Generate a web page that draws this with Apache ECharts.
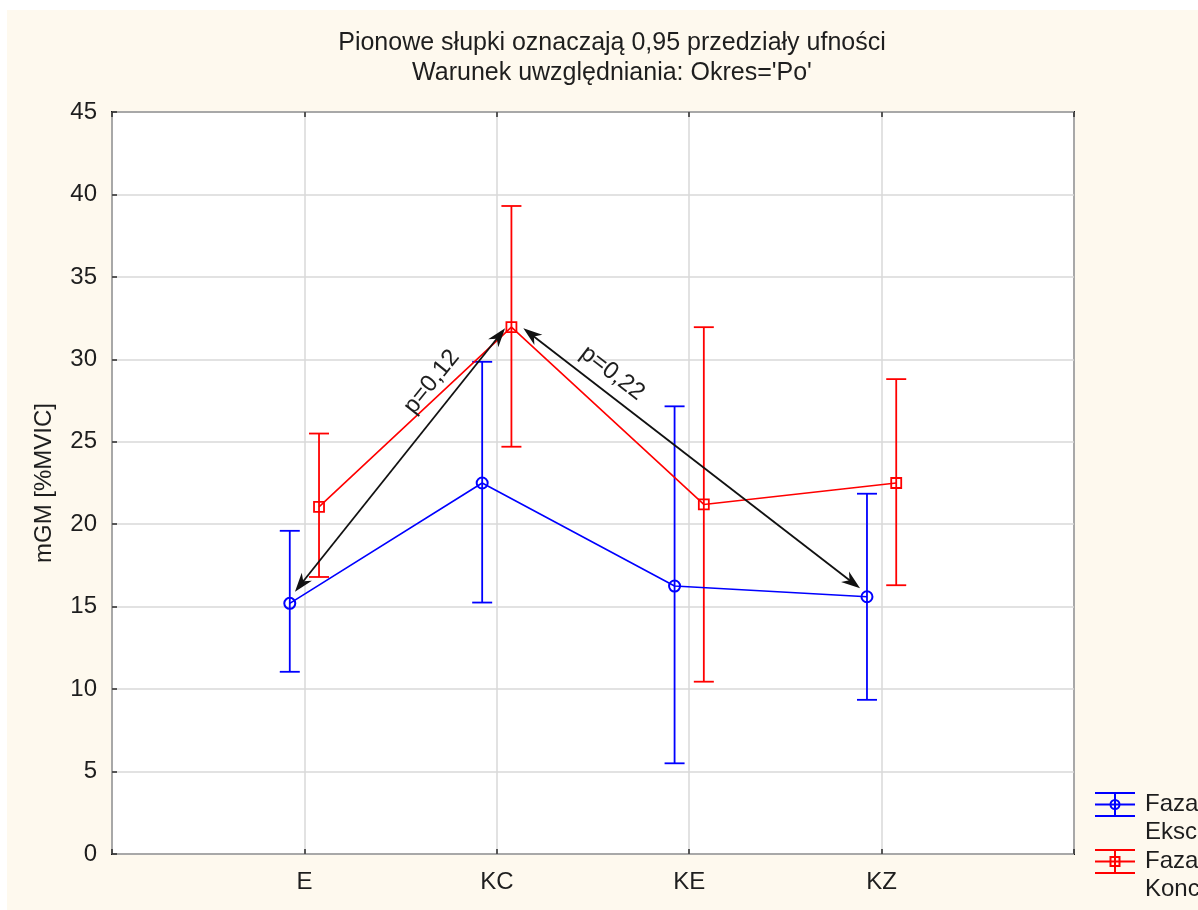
<!DOCTYPE html>
<html><head><meta charset="utf-8">
<script src="https://cdn.jsdelivr.net/npm/echarts@6/dist/echarts.min.js"></script>
<style>html,body{margin:0;padding:0;background:#fff}#c{width:1198px;height:910px}</style>
</head><body><div id="c"></div>
<script>
// ---- data ----
const categories = ['E', 'KC', 'KE', 'KZ'];
const yTicks = [0, 5, 10, 15, 20, 25, 30, 35, 40, 45];
const ekscMean = [15.2, 22.5, 16.25, 15.6];
const ekscLow  = [11.05, 15.25, 5.5, 9.35];
const ekscHigh = [19.6, 29.85, 27.15, 21.85];
const koncMean = [21.05, 31.95, 21.2, 22.5];
const koncLow  = [16.8, 24.7, 10.45, 16.3];
const koncHigh = [25.5, 39.3, 31.95, 28.8];
const seriesNames = [['Faza', 'Ekscentryczna'], ['Faza', 'Koncentryczna']];
const titleLines = ["Pionowe słupki oznaczają 0,95 przedziały ufności", "Warunek uwzględniania: Okres='Po'"];
const yAxisName = 'mGM [%MVIC]';
// annotation arrows (data coordinates: category position, value)
const arrowFrom = [[0.951, 15.91], [2.138, 31.88]];
const arrowTo   = [[2.043, 31.88], [3.888, 16.11]];
const arrowLabels = ['p=0,12', 'p=0,22'];

// ---- layout/style ----
const OFF = 0.076;
const BLUE = '#0000ff', RED = '#ff0000';
const FONT = '"Liberation Sans", Arial, sans-serif';
const TXT = '#1e1e1e';
const FS = 24;
const labelPlace = [{t: 0.74, d: 24}, {t: 0.23, d: 19}];

const chart = echarts.init(document.getElementById('c'), null, {renderer: 'canvas'});

function pts(mean, off) { return mean.map((v, i) => [i + 1 + off, v]); }
function bars(low, high, off) { return low.map((v, i) => [i + 1 + off, v, high[i]]); }

function errRender(color) {
  return function (params, api) {
    const x = api.value(0);
    const lo = api.coord([x, api.value(1)]);
    const hi = api.coord([x, api.value(2)]);
    const w = 10;
    const st = {stroke: color, lineWidth: 1.8};
    return {type: 'group', children: [
      {type: 'line', shape: {x1: lo[0], y1: lo[1], x2: hi[0], y2: hi[1]}, style: st},
      {type: 'line', shape: {x1: lo[0] - w, y1: lo[1], x2: lo[0] + w, y2: lo[1]}, style: st},
      {type: 'line', shape: {x1: hi[0] - w, y1: hi[1], x2: hi[0] + w, y2: hi[1]}, style: st}
    ]};
  };
}

function head(tip, ux, uy) {
  const L = 19, H = 6.5;
  const bx = tip[0] - ux * L, by = tip[1] - uy * L;
  const nx = tip[0] - ux * L * 0.7, ny = tip[1] - uy * L * 0.7;
  return {type: 'polygon', shape: {points: [
    [tip[0], tip[1]], [bx - uy * H, by + ux * H], [nx, ny], [bx + uy * H, by - ux * H]
  ]}, style: {fill: '#111'}};
}

function arrowRender(params, api) {
  const i = params.dataIndex;
  const p1 = api.coord([api.value(0), api.value(1)]);
  const p2 = api.coord([api.value(2), api.value(3)]);
  const dx = p2[0] - p1[0], dy = p2[1] - p1[1];
  const len = Math.sqrt(dx * dx + dy * dy);
  const ux = dx / len, uy = dy / len;
  const lp = labelPlace[i];
  const mx = p1[0] + dx * lp.t + uy * lp.d;
  const my = p1[1] + dy * lp.t - ux * lp.d;
  const rot = Math.atan2(-dy, dx);
  return {type: 'group', children: [
    {type: 'line', shape: {x1: p1[0] + ux * 12, y1: p1[1] + uy * 12, x2: p2[0] - ux * 12, y2: p2[1] - uy * 12},
     style: {stroke: '#111', lineWidth: 1.8}},
    head(p2, ux, uy),
    head(p1, -ux, -uy),
    {type: 'text', x: mx, y: my, rotation: rot,
     style: {text: arrowLabels[i], fill: TXT, font: FS + 'px ' + FONT, align: 'center', verticalAlign: 'middle'}}
  ]};
}

const axisLabelStyle = {color: TXT, fontSize: FS, fontFamily: FONT};

function legendGroup(y, color, isCircle, names) {
  const st = {stroke: color, lineWidth: 2};
  const marker = isCircle
    ? {type: 'circle', shape: {cx: 20, cy: 11.5, r: 4.5}, style: {stroke: color, fill: 'none', lineWidth: 2}}
    : {type: 'rect', shape: {x: 15.5, y: 7, width: 9, height: 9}, style: {stroke: color, fill: 'none', lineWidth: 2}};
  return {type: 'group', x: 1095, y: y, children: [
    {type: 'line', shape: {x1: 0, y1: 0, x2: 40, y2: 0}, style: st},
    {type: 'line', shape: {x1: 0, y1: 11.5, x2: 40, y2: 11.5}, style: st},
    {type: 'line', shape: {x1: 0, y1: 23, x2: 40, y2: 23}, style: st},
    {type: 'line', shape: {x1: 20, y1: 0, x2: 20, y2: 23}, style: st},
    marker,
    {type: 'text', x: 50, y: 11.5, style: {text: names[0], fill: TXT, font: FS + 'px ' + FONT, verticalAlign: 'middle', align: 'left'}},
    {type: 'text', x: 50, y: 39, style: {text: names[1], fill: TXT, font: FS + 'px ' + FONT, verticalAlign: 'middle', align: 'left'}}
  ]};
}

const option = {
  backgroundColor: '#ffffff',
  animation: false,
  grid: {left: 112, top: 112, width: 962, height: 742, show: true, backgroundColor: '#ffffff',
         borderColor: '#1a1a1a', borderWidth: 2},
  xAxis: [{
    type: 'value', min: 0, max: 5, interval: 1,
    axisLine: {show: false},
    axisTick: {show: true, inside: true, length: 5, lineStyle: {color: '#2a2a2a', width: 1.5}},
    splitLine: {show: true, lineStyle: {color: '#d9d9d9', width: 1.5}},
    axisLabel: Object.assign({margin: 16, formatter: v => categories[v - 1] || ''}, axisLabelStyle)
  }, {
    type: 'value', min: 0, max: 5, interval: 1, position: 'top',
    axisLine: {show: false},
    axisTick: {show: true, inside: true, length: 5, lineStyle: {color: '#2a2a2a', width: 1.5}},
    splitLine: {show: false}, axisLabel: {show: false}
  }],
  yAxis: {
    type: 'value', min: yTicks[0], max: yTicks[yTicks.length - 1], interval: 5,
    name: yAxisName, nameLocation: 'middle', nameGap: 56, nameRotate: 90,
    nameTextStyle: {color: TXT, fontSize: FS, fontFamily: FONT},
    axisLine: {show: false},
    axisTick: {show: true, inside: true, length: 5, lineStyle: {color: '#2a2a2a', width: 1.5}},
    splitLine: {show: true, lineStyle: {color: '#d9d9d9', width: 1.5}},
    axisLabel: Object.assign({margin: 15, formatter: v => (yTicks.indexOf(v) >= 0 ? String(v) : '')}, axisLabelStyle)
  },
  graphic: [
    {type: 'rect', shape: {x: 7, y: 10, width: 1191, height: 900}, style: {fill: '#fef9ee'}, z: -100, silent: true},
    {type: 'text', x: 612, y: 43, style: {text: titleLines[0], fill: TXT, font: '25px ' + FONT, align: 'center', verticalAlign: 'middle'}},
    {type: 'text', x: 612, y: 73, style: {text: titleLines[1], fill: TXT, font: '25px ' + FONT, align: 'center', verticalAlign: 'middle'}},
    legendGroup(793, BLUE, true, seriesNames[0]),
    legendGroup(850, RED, false, seriesNames[1])
  ],
  series: [
    {type: 'custom', name: 'ekscErr', renderItem: errRender(BLUE), data: bars(ekscLow, ekscHigh, -OFF), z: 2},
    {type: 'custom', name: 'koncErr', renderItem: errRender(RED), data: bars(koncLow, koncHigh, OFF), z: 2},
    {type: 'line', name: 'eksc', data: pts(ekscMean, -OFF), symbol: 'circle', symbolSize: 11,
     lineStyle: {color: BLUE, width: 1.6}, itemStyle: {color: 'rgba(0,0,0,0)', borderColor: BLUE, borderWidth: 2}, z: 3},
    {type: 'line', name: 'konc', data: pts(koncMean, OFF), symbol: 'rect', symbolSize: 10,
     lineStyle: {color: RED, width: 1.6}, itemStyle: {color: 'rgba(0,0,0,0)', borderColor: RED, borderWidth: 1.8}, z: 3},
    {type: 'custom', name: 'arrows', renderItem: arrowRender,
     data: arrowFrom.map((a, i) => [a[0], a[1], arrowTo[i][0], arrowTo[i][1]]), z: 5}
  ]
};
chart.setOption(option);
</script></body></html>
